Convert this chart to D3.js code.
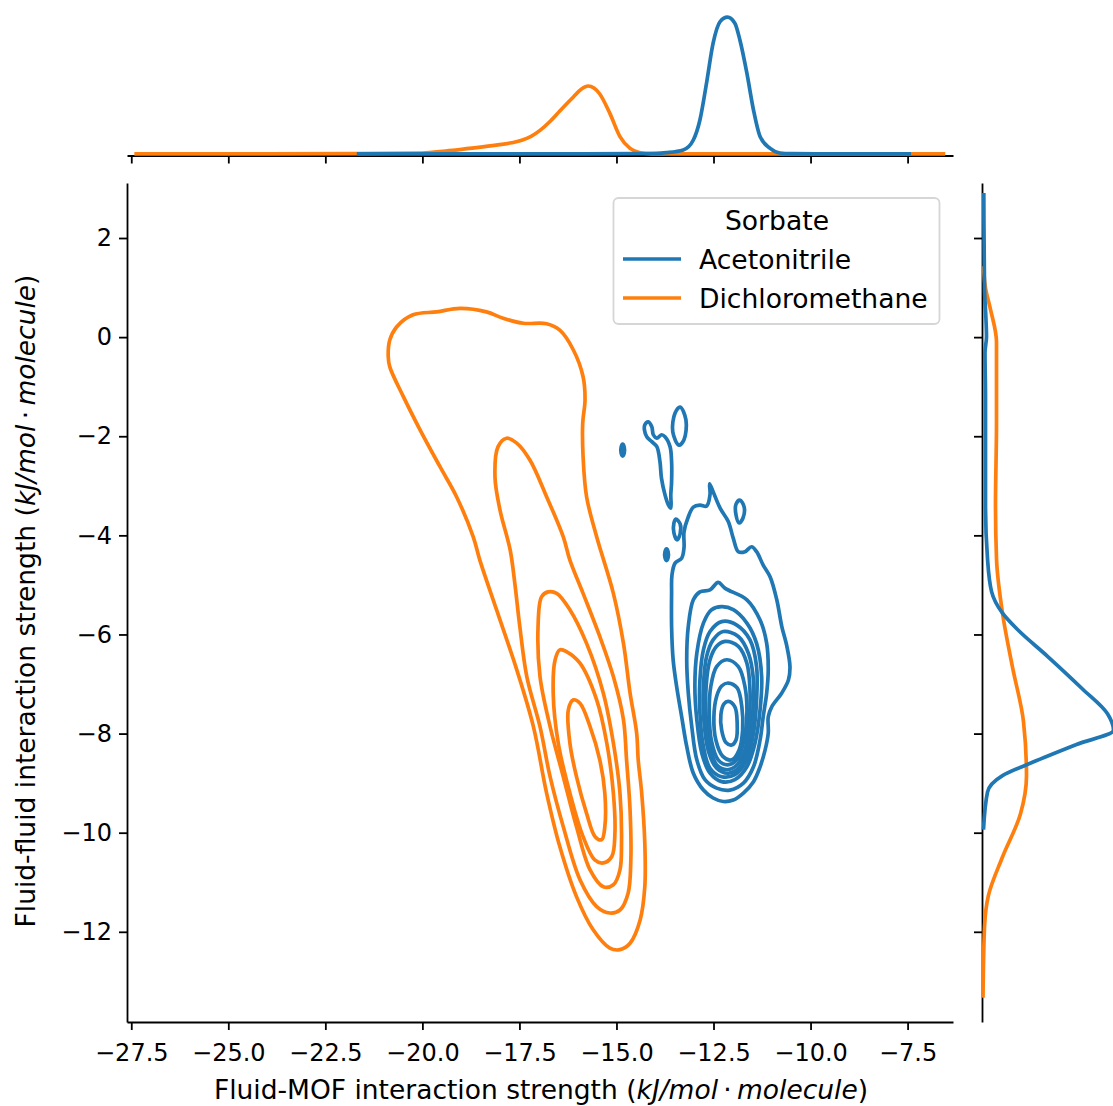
<!DOCTYPE html>
<html>
<head>
<meta charset="utf-8">
<script src="https://cdn.jsdelivr.net/npm/d3@7"></script>
<style>
  html, body { margin: 0; padding: 0; background: #fff; }
  svg { display: block; font-family: 'DejaVu Sans', sans-serif; }
</style>
</head>
<body>
<div id="chart"></div>
<script>
/* global d3 */

// Series
const sorbates = [ 'Acetonitrile', 'Dichloromethane' ];
const sorbateColors = [ '#1f77b4', '#ff7f0e' ];

// Tick labels
const xTicks = [ -27.5, -25, -22.5, -20, -17.5, -15, -12.5, -10, -7.5 ];
const yTicks = [ 2, 0, -2, -4, -6, -8, -10, -12 ];

// Marginal KDE along fluid-MOF strength: [x, density]
const topAcetonitrile = [
	[ -21.69, 0.0005 ], [ -16, 0.001 ], [ -14.5, 0.002 ], [ -13.97, 0.003 ], [ -13.71, 0.0065 ],
	[ -13.28, 0.02 ], [ -13.02, 0.07 ], [ -12.85, 0.17 ], [ -12.68, 0.354 ], [ -12.51, 0.554 ],
	[ -12.33, 0.662 ], [ -12.14, 0.684 ], [ -11.95, 0.654 ], [ -11.82, 0.57 ], [ -11.64, 0.404 ],
	[ -11.47, 0.22 ], [ -11.3, 0.087 ], [ -11.04, 0.028 ], [ -10.79, 0.005 ], [ -10.5, 0.002 ],
	[ -9.8, 0.001 ], [ -7.41, 0.0005 ],
];
const topDichloromethane = [
	[ -27.42, 0.001 ], [ -24, 0.001 ], [ -21.7, 0.002 ], [ -20.0, 0.005 ], [ -19.4, 0.015 ],
	[ -18.8, 0.028 ], [ -18.1, 0.044 ], [ -17.7, 0.056 ], [ -17.42, 0.07 ], [ -17.2, 0.088 ],
	[ -16.97, 0.118 ], [ -16.7, 0.165 ], [ -16.46, 0.215 ], [ -16.11, 0.285 ], [ -15.9, 0.325 ],
	[ -15.73, 0.34 ], [ -15.58, 0.33 ], [ -15.43, 0.3 ], [ -15.17, 0.203 ], [ -14.91, 0.087 ],
	[ -14.65, 0.028 ], [ -14.39, 0.0065 ], [ -14.1, 0.001 ], [ -12, 0.0005 ], [ -6.53, 0.0005 ],
];

// Marginal KDE along fluid-fluid strength: [y, density]
const rightAcetonitrile = [
	[ 2.91, 0.0065 ], [ 0.99, 0.01 ], [ 0.34, 0.0175 ], [ 0.01, 0.02 ], [ -0.32, 0.0125 ],
	[ -1.19, 0.015 ], [ -3.38, 0.015 ], [ -4.47, 0.025 ], [ -5.13, 0.045 ], [ -5.57, 0.1 ],
	[ -5.9, 0.175 ], [ -6.44, 0.325 ], [ -7.1, 0.5 ], [ -7.6, 0.625 ], [ -7.93, 0.655 ],
	[ -8.22, 0.47 ], [ -8.58, 0.25 ], [ -8.85, 0.1 ], [ -9.18, 0.025 ], [ -9.94, 0.005 ],
];
const rightDichloromethane = [
	[ 1.43, 0.005 ], [ 0.99, 0.015 ], [ 0.56, 0.04 ], [ -0.1, 0.07 ], [ -1.74, 0.07 ],
	[ -3.38, 0.065 ], [ -4.47, 0.07 ], [ -5.57, 0.1 ], [ -6.66, 0.15 ], [ -7.76, 0.205 ],
	[ -8.85, 0.22 ], [ -9.62, 0.19 ], [ -10.49, 0.1 ], [ -11.26, 0.03 ], [ -11.91, 0.01 ],
	[ -13.33, 0.0025 ],
];

// Joint KDE iso-lines, one closed ring of [x, y] each
const acetonitrileContours = [
	[ [ -13.57, -4.8 ], [ -13.49, -4.56 ], [ -13.32, -4.46 ], [ -13.26, -4.25 ], [ -13.26, -3.93 ], [ -13.16, -3.65 ],
		[ -13.02, -3.43 ], [ -12.85, -3.39 ], [ -12.68, -3.41 ], [ -12.59, -3.18 ], [ -12.6, -2.96 ], [ -12.51, -3.12 ],
		[ -12.33, -3.45 ], [ -12.12, -3.72 ], [ -11.99, -4.06 ], [ -11.86, -4.33 ], [ -11.69, -4.33 ], [ -11.52, -4.23 ],
		[ -11.39, -4.33 ], [ -11.22, -4.6 ], [ -11.04, -4.84 ], [ -10.87, -5.3 ], [ -10.74, -5.84 ], [ -10.61, -6.24 ],
		[ -10.53, -6.65 ], [ -10.57, -6.92 ], [ -10.74, -7.18 ], [ -11.0, -7.46 ], [ -11.09, -7.66 ], [ -11.09, -7.99 ],
		[ -11.17, -8.33 ], [ -11.3, -8.67 ], [ -11.47, -8.97 ], [ -11.73, -9.2 ], [ -11.99, -9.34 ], [ -12.25, -9.37 ],
		[ -12.51, -9.3 ], [ -12.76, -9.14 ], [ -13.02, -8.8 ], [ -13.19, -8.26 ], [ -13.32, -7.66 ], [ -13.45, -7.05 ],
		[ -13.54, -6.51 ], [ -13.58, -5.84 ], [ -13.58, -5.17 ] ],
	[ [ -14.27, -1.77 ], [ -14.18, -1.71 ], [ -14.09, -1.81 ], [ -14.05, -1.97 ], [ -13.96, -2.04 ], [ -13.84, -1.97 ],
		[ -13.75, -2.01 ], [ -13.62, -2.21 ], [ -13.58, -2.51 ], [ -13.58, -2.92 ], [ -13.6, -3.18 ], [ -13.6, -3.45 ],
		[ -13.66, -3.39 ], [ -13.75, -3.18 ], [ -13.84, -2.85 ], [ -13.88, -2.51 ], [ -13.96, -2.21 ], [ -14.09, -2.11 ],
		[ -14.22, -2.01 ], [ -14.28, -1.87 ] ],
	[ [ -13.36, -1.41 ], [ -13.21, -1.67 ], [ -13.26, -2.07 ], [ -13.39, -2.18 ], [ -13.55, -1.91 ], [ -13.49, -1.53 ] ],
	[ [ -11.82, -3.29 ], [ -11.71, -3.43 ], [ -11.74, -3.65 ], [ -11.84, -3.75 ], [ -11.92, -3.59 ], [ -11.92, -3.37 ] ],
	[ [ -13.47, -3.67 ], [ -13.36, -3.77 ], [ -13.36, -3.97 ], [ -13.44, -4.09 ], [ -13.52, -3.95 ], [ -13.52, -3.75 ] ],
	[ [ -14.84, -2.16 ], [ -14.8, -2.22 ], [ -14.8, -2.34 ], [ -14.84, -2.4 ], [ -14.88, -2.34 ], [ -14.88, -2.22 ] ],
	[ [ -13.71, -4.27 ], [ -13.67, -4.33 ], [ -13.67, -4.45 ], [ -13.71, -4.51 ], [ -13.75, -4.45 ], [ -13.75, -4.33 ] ],
	[ [ -12.38, -4.95 ], [ -12.2, -5.07 ], [ -11.64, -5.3 ], [ -11.3, -5.71 ], [ -11.13, -6.18 ], [ -11.09, -6.71 ],
		[ -11.13, -7.18 ], [ -11.22, -7.66 ], [ -11.3, -8.13 ], [ -11.47, -8.67 ], [ -11.73, -9.0 ], [ -12.08, -9.14 ],
		[ -12.42, -9.1 ], [ -12.72, -8.93 ], [ -12.93, -8.53 ], [ -13.06, -7.86 ], [ -13.15, -7.18 ], [ -13.19, -6.51 ],
		[ -13.15, -5.84 ], [ -13.02, -5.3 ], [ -12.85, -5.14 ], [ -12.59, -5.1 ] ],
	[ [ -12.29, -5.44 ], [ -11.99, -5.5 ], [ -11.64, -5.77 ], [ -11.39, -6.18 ], [ -11.26, -6.85 ], [ -11.3, -7.52 ],
		[ -11.43, -8.19 ], [ -11.64, -8.67 ], [ -11.95, -8.93 ], [ -12.29, -8.97 ], [ -12.59, -8.8 ], [ -12.8, -8.4 ],
		[ -12.93, -7.72 ], [ -12.98, -7.05 ], [ -12.93, -6.38 ], [ -12.76, -5.77 ], [ -12.55, -5.5 ] ],
	[ [ -12.29, -5.74 ], [ -11.9, -5.81 ], [ -11.56, -6.11 ], [ -11.39, -6.65 ], [ -11.39, -7.32 ], [ -11.47, -7.99 ],
		[ -11.64, -8.53 ], [ -11.95, -8.83 ], [ -12.29, -8.87 ], [ -12.59, -8.7 ], [ -12.76, -8.26 ], [ -12.85, -7.59 ],
		[ -12.85, -6.92 ], [ -12.76, -6.31 ], [ -12.59, -5.94 ] ],
	[ [ -12.25, -5.94 ], [ -11.86, -6.04 ], [ -11.6, -6.38 ], [ -11.47, -6.92 ], [ -11.49, -7.59 ], [ -11.6, -8.26 ],
		[ -11.82, -8.67 ], [ -12.12, -8.8 ], [ -12.42, -8.7 ], [ -12.63, -8.36 ], [ -12.75, -7.72 ], [ -12.76, -7.05 ],
		[ -12.68, -6.45 ], [ -12.51, -6.11 ] ],
	[ [ -12.2, -6.14 ], [ -11.86, -6.24 ], [ -11.64, -6.58 ], [ -11.56, -7.12 ], [ -11.58, -7.72 ], [ -11.69, -8.33 ],
		[ -11.89, -8.63 ], [ -12.14, -8.73 ], [ -12.42, -8.63 ], [ -12.59, -8.26 ], [ -12.69, -7.66 ], [ -12.69, -7.05 ],
		[ -12.59, -6.51 ], [ -12.42, -6.24 ] ],
	[ [ -12.16, -6.51 ], [ -11.86, -6.65 ], [ -11.69, -7.05 ], [ -11.64, -7.59 ], [ -11.73, -8.19 ], [ -11.9, -8.53 ],
		[ -12.14, -8.63 ], [ -12.38, -8.53 ], [ -12.55, -8.16 ], [ -12.61, -7.59 ], [ -12.57, -7.05 ], [ -12.42, -6.65 ] ],
	[ [ -12.12, -6.98 ], [ -11.89, -7.08 ], [ -11.77, -7.46 ], [ -11.75, -7.93 ], [ -11.84, -8.33 ], [ -12.03, -8.53 ],
		[ -12.26, -8.46 ], [ -12.44, -8.13 ], [ -12.49, -7.66 ], [ -12.42, -7.25 ], [ -12.29, -7.04 ] ],
	[ [ -12.12, -7.35 ], [ -11.95, -7.46 ], [ -11.89, -7.79 ], [ -11.92, -8.13 ], [ -12.03, -8.23 ], [ -12.18, -8.18 ],
		[ -12.29, -7.93 ], [ -12.31, -7.62 ], [ -12.23, -7.4 ] ],
];

const dichloromethaneContours = [
	[ [ -20.88, -0.39 ], [ -20.84, -0.06 ], [ -20.66, 0.21 ], [ -20.24, 0.45 ], [ -19.63, 0.51 ], [ -19.03, 0.58 ],
		[ -18.35, 0.51 ], [ -17.92, 0.38 ], [ -17.4, 0.28 ], [ -16.8, 0.27 ], [ -16.46, 0.14 ], [ -16.11, -0.26 ],
		[ -15.86, -0.8 ], [ -15.81, -1.27 ], [ -15.87, -1.74 ], [ -15.86, -2.41 ], [ -15.77, -3.22 ], [ -15.51, -4.03 ],
		[ -15.08, -5.17 ], [ -14.82, -6.18 ], [ -14.65, -7.18 ], [ -14.48, -7.99 ], [ -14.44, -8.53 ], [ -14.35, -9.2 ],
		[ -14.27, -10.21 ], [ -14.27, -11.09 ], [ -14.39, -11.76 ], [ -14.65, -12.23 ], [ -14.91, -12.36 ],
		[ -15.17, -12.33 ], [ -15.6, -11.96 ], [ -16.03, -11.29 ], [ -16.46, -10.28 ], [ -16.8, -9.2 ], [ -17.14, -7.86 ],
		[ -17.57, -6.71 ], [ -18.09, -5.5 ], [ -18.52, -4.5 ], [ -18.69, -4.03 ], [ -19.12, -3.22 ], [ -19.55, -2.61 ],
		[ -20.06, -1.87 ], [ -20.49, -1.2 ], [ -20.84, -0.6 ] ],
	[ [ -17.83, -2.04 ], [ -17.57, -2.14 ], [ -17.23, -2.48 ], [ -16.8, -3.22 ], [ -16.37, -4.03 ], [ -16.2, -4.5 ],
		[ -15.86, -5.17 ], [ -15.43, -6.04 ], [ -15.08, -6.85 ], [ -14.82, -7.72 ], [ -14.74, -8.53 ], [ -14.65, -9.54 ],
		[ -14.63, -10.55 ], [ -14.7, -11.22 ], [ -14.91, -11.56 ], [ -15.17, -11.62 ], [ -15.51, -11.49 ],
		[ -15.94, -10.95 ], [ -16.37, -9.88 ], [ -16.71, -8.87 ], [ -16.97, -7.86 ], [ -17.31, -6.85 ], [ -17.49, -5.84 ],
		[ -17.62, -4.96 ], [ -17.74, -4.29 ], [ -18.0, -3.49 ], [ -18.13, -2.82 ], [ -18.05, -2.21 ] ],
	[ [ -16.76, -5.14 ], [ -16.54, -5.17 ], [ -16.2, -5.5 ], [ -15.77, -6.18 ], [ -15.34, -7.18 ], [ -15.08, -8.19 ],
		[ -14.91, -9.2 ], [ -14.87, -10.21 ], [ -14.91, -10.75 ], [ -15.08, -11.05 ], [ -15.34, -11.09 ],
		[ -15.68, -10.75 ], [ -16.03, -9.88 ], [ -16.37, -8.87 ], [ -16.71, -7.86 ], [ -16.97, -6.85 ], [ -17.02, -5.84 ],
		[ -16.93, -5.24 ] ],
	[ [ -16.46, -6.31 ], [ -16.28, -6.35 ], [ -15.94, -6.58 ], [ -15.51, -7.32 ], [ -15.25, -8.19 ], [ -15.08, -9.2 ],
		[ -15.04, -10.01 ], [ -15.12, -10.48 ], [ -15.34, -10.61 ], [ -15.56, -10.55 ], [ -15.86, -10.08 ],
		[ -16.2, -9.2 ], [ -16.5, -8.19 ], [ -16.63, -7.18 ], [ -16.58, -6.51 ] ],
	[ [ -16.11, -7.32 ], [ -15.94, -7.39 ], [ -15.68, -7.86 ], [ -15.43, -8.53 ], [ -15.3, -9.2 ], [ -15.3, -9.88 ],
		[ -15.38, -10.14 ], [ -15.55, -10.08 ], [ -15.77, -9.61 ], [ -16.03, -8.87 ], [ -16.2, -8.19 ], [ -16.24, -7.52 ] ],
];

/**
 * Joint KDE plot with marginal densities
 */
class JointKdeChart {
	constructor( selector ) {
		this.selector = selector;
		this.config = {
			width: 1113,
			height: 1106,
			left: 127,
			right: 953,
			top: 183,
			bottom: 1022,
			topBase: 154,
			rightBase: 982.5,
			lineWidth: 3.7,
			tickFont: 24,
			labelFont: 26.5,
			legendFont: 26.6,
		};

		this.setupScales();
		this.createSVG();
		this.drawAxes();
		this.drawMarginals();
		this.drawContours();
		this.drawLegend();
		this.drawLabels();
	}

	setupScales() {
		const { left, right, top, bottom, topBase, rightBase } = this.config;
		this.x = d3.scaleLinear().domain( [ -27.61, -6.33 ] ).range( [ left, right ] );
		this.y = d3.scaleLinear().domain( [ 3.11, -13.82 ] ).range( [ top, bottom ] );
		this.topDensity = d3.scaleLinear().domain( [ 0, 0.7 ] ).range( [ topBase, topBase - 140 ] );
		this.rightDensity = d3.scaleLinear().domain( [ 0, 0.7 ] ).range( [ rightBase, rightBase + 140 ] );
	}

	createSVG() {
		const { width, height } = this.config;
		this.svg = d3.select( this.selector )
			.append( 'svg' )
			.attr( 'width', width )
			.attr( 'height', height );
	}

	styleAxis( g ) {
		g.attr( 'font-family', 'DejaVu Sans, sans-serif' )
			.attr( 'font-size', this.config.tickFont );
		g.select( '.domain' ).attr( 'stroke', '#000' ).attr( 'stroke-width', 1.8 );
		g.selectAll( '.tick line' ).attr( 'stroke', '#000' ).attr( 'stroke-width', 1.8 );
		g.selectAll( '.tick text' ).attr( 'fill', '#000' );
	}

	drawAxes() {
		const { left, bottom, topBase, rightBase } = this.config;

		this.svg.append( 'g' )
			.attr( 'transform', `translate(0,${ bottom })` )
			.call( d3.axisBottom( this.x ).tickValues( xTicks ).tickFormat( d3.format( '.1f' ) )
				.tickSize( 8 ).tickSizeOuter( 0 ).tickPadding( 14 ) )
			.call( ( g ) => this.styleAxis( g ) );

		this.svg.append( 'g' )
			.attr( 'transform', `translate(${ left },0)` )
			.call( d3.axisLeft( this.y ).tickValues( yTicks ).tickFormat( d3.format( 'd' ) )
				.tickSize( 8 ).tickSizeOuter( 0 ).tickPadding( 7 ) )
			.call( ( g ) => this.styleAxis( g ) );

		// marginal axes keep ticks but no labels
		this.svg.append( 'g' )
			.attr( 'transform', `translate(0,${ topBase + 1.5 })` )
			.call( d3.axisBottom( this.x ).tickValues( xTicks ).tickFormat( '' )
				.tickSize( 8 ).tickSizeOuter( 0 ) )
			.call( ( g ) => this.styleAxis( g ) );

		this.svg.append( 'g' )
			.attr( 'transform', `translate(${ rightBase - 0.5 },0)` )
			.call( d3.axisLeft( this.y ).tickValues( yTicks ).tickFormat( '' )
				.tickSize( 8 ).tickSizeOuter( 0 ) )
			.call( ( g ) => this.styleAxis( g ) );
	}

	drawMarginals() {
		const topLine = d3.line()
			.x( ( d ) => this.x( d[ 0 ] ) )
			.y( ( d ) => this.topDensity( d[ 1 ] ) )
			.curve( d3.curveMonotoneX );

		const rightLine = d3.line()
			.x( ( d ) => this.rightDensity( d[ 1 ] ) )
			.y( ( d ) => this.y( d[ 0 ] ) )
			.curve( d3.curveMonotoneY );

		const topSeries = [ topAcetonitrile, topDichloromethane ];
		const rightSeries = [ rightAcetonitrile, rightDichloromethane ];

		[ 1, 0 ].forEach( ( i ) => {
			this.svg.append( 'path' )
				.attr( 'd', topLine( topSeries[ i ] ) )
				.attr( 'fill', 'none' )
				.attr( 'stroke', sorbateColors[ i ] )
				.attr( 'stroke-width', this.config.lineWidth );
		} );
		[ 1, 0 ].forEach( ( i ) => {
			this.svg.append( 'path' )
				.attr( 'd', rightLine( rightSeries[ i ].slice().reverse() ) )
				.attr( 'fill', 'none' )
				.attr( 'stroke', sorbateColors[ i ] )
				.attr( 'stroke-width', this.config.lineWidth );
		} );
	}

	drawContours() {
		const ring = d3.line()
			.x( ( d ) => this.x( d[ 0 ] ) )
			.y( ( d ) => this.y( d[ 1 ] ) )
			.curve( d3.curveCatmullRomClosed.alpha( 0.5 ) );

		[ acetonitrileContours, dichloromethaneContours ].forEach( ( rings, i ) => {
			this.svg.append( 'g' )
				.selectAll( 'path' )
				.data( rings )
				.join( 'path' )
				.attr( 'd', ring )
				.attr( 'fill', 'none' )
				.attr( 'stroke', sorbateColors[ i ] )
				.attr( 'stroke-width', this.config.lineWidth )
				.attr( 'stroke-linejoin', 'round' );
		} );
	}

	drawLegend() {
		const legend = this.svg.append( 'g' )
			.attr( 'font-family', 'DejaVu Sans, sans-serif' )
			.attr( 'font-size', this.config.legendFont );

		legend.append( 'rect' )
			.attr( 'x', 613.5 )
			.attr( 'y', 198 )
			.attr( 'width', 326 )
			.attr( 'height', 126 )
			.attr( 'rx', 5 )
			.attr( 'fill', '#fff' )
			.attr( 'fill-opacity', 0.8 )
			.attr( 'stroke', '#d6d6d6' )
			.attr( 'stroke-width', 1.8 );

		legend.append( 'text' )
			.attr( 'x', 777 )
			.attr( 'y', 230 )
			.attr( 'text-anchor', 'middle' )
			.text( 'Sorbate' );

		sorbates.forEach( ( name, i ) => {
			const cy = 259 + i * 39;
			legend.append( 'line' )
				.attr( 'x1', 623 ).attr( 'x2', 681 )
				.attr( 'y1', cy ).attr( 'y2', cy )
				.attr( 'stroke', sorbateColors[ i ] )
				.attr( 'stroke-width', this.config.lineWidth );
			legend.append( 'text' )
				.attr( 'x', 699 )
				.attr( 'y', cy + 9.5 )
				.text( name );
		} );
	}

	drawLabels() {
		const addLabel = ( g, prefix ) => {
			const t = g.append( 'text' )
				.attr( 'text-anchor', 'middle' )
				.attr( 'font-family', 'DejaVu Sans, sans-serif' )
				.attr( 'font-size', this.config.labelFont );
			t.append( 'tspan' ).text( prefix + ' (' );
			t.append( 'tspan' ).attr( 'font-style', 'italic' ).text( 'kJ/mol' );
			t.append( 'tspan' ).text( '\u2009·\u2009' );
			t.append( 'tspan' ).attr( 'font-style', 'italic' ).text( 'molecule' );
			t.append( 'tspan' ).text( ')' );
			return t;
		};

		addLabel( this.svg.append( 'g' ).attr( 'transform', 'translate(541,1099)' ),
			'Fluid-MOF interaction strength' );
		addLabel( this.svg.append( 'g' ).attr( 'transform', 'translate(35,601) rotate(-90)' ),
			'Fluid-fluid interaction strength' );
	}
}

new JointKdeChart( '#chart' );
</script>
</body>
</html>
